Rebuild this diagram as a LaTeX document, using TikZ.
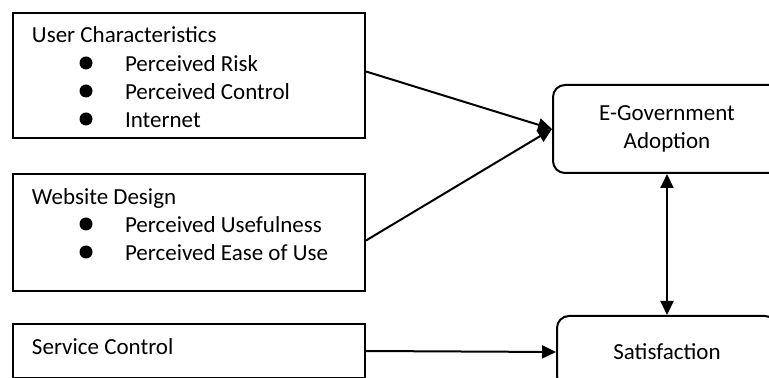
\documentclass[tikz,border=0pt]{standalone}
\usepackage{fontspec}
\setmainfont{Carlito}
\usetikzlibrary{calc,positioning,arrows.meta}
\tikzset{
  model schemes/.style = {
    x = 0.5pt, y = -0.5pt,
    line width = 1pt,
    font = \fontsize{11.5}{14}\selectfont,
    % Factor boxes
    fbox/.style  = { draw, rectangle, anchor=north west, inner sep=0pt,
                     minimum width=176pt },
    % Outcome boxes
    obox/.style  = { draw, rounded corners=6pt, align=center, inner sep=0pt },
    lbl/.style   = { anchor=base west, inner sep=0pt },
    % Lines, arrows
    connect line/.style = { -{Triangle[length=7pt,width=6.5pt]} },
    both line/.style    = { {Triangle[length=7pt,width=6.5pt]}-{Triangle[length=7pt,width=6.5pt]} },
  },
  setbullet/.code = { \fill (#1) circle (6.5); }
}

\begin{document}
\begin{tikzpicture}[model schemes]
\useasboundingbox (0,0) rectangle (769,378);

% factors
\node[fbox, minimum height=62.5pt] (ucbox) at (12,12)  {};
\node[fbox, minimum height=58.5pt] (wdbox) at (12,173) {};
\node[fbox, minimum height=27pt]   (scbox) at (12,323) {};

\node[lbl] (uctitle) at (31,43)  {User Characteristics};
\foreach \y/\t [count=\i] in {72/Perceived Risk, 100/Perceived Control, 128/Internet} {
  \coordinate (ucdot-\i) at (86,\y-9);
  \tikzset{setbullet=ucdot-\i}
  \node[lbl] (uc-\i) at (124,\y) {\t};
}

\node[lbl] (wdtitle) at (31,205) {Website Design};
\foreach \y/\t [count=\i] in {233/Perceived Usefulness, 261/Perceived Ease of Use} {
  \coordinate (wddot-\i) at (86,\y-9);
  \tikzset{setbullet=wddot-\i}
  \node[lbl] (wd-\i) at (124,\y) {\t};
}

\node[lbl] (sctitle) at (31,355) {Service Control};

% outcomes
\node[obox, minimum width=114pt, minimum height=44pt] (egov) at (667,129)
  {E-Government\\Adoption};
\node[obox, minimum width=110pt, minimum height=36pt] (sat) at (667,352)
  {Satisfaction};

\draw[connect line] ([yshift=2pt]ucbox.east)  -- (egov.west);
\draw[connect line] ([yshift=-4pt]wdbox.east) -- (egov.west);
\draw[connect line] (scbox.east) -- (sat.west);
\draw[both line]    (egov.south) -- (sat.north);

\end{tikzpicture}
\end{document}
